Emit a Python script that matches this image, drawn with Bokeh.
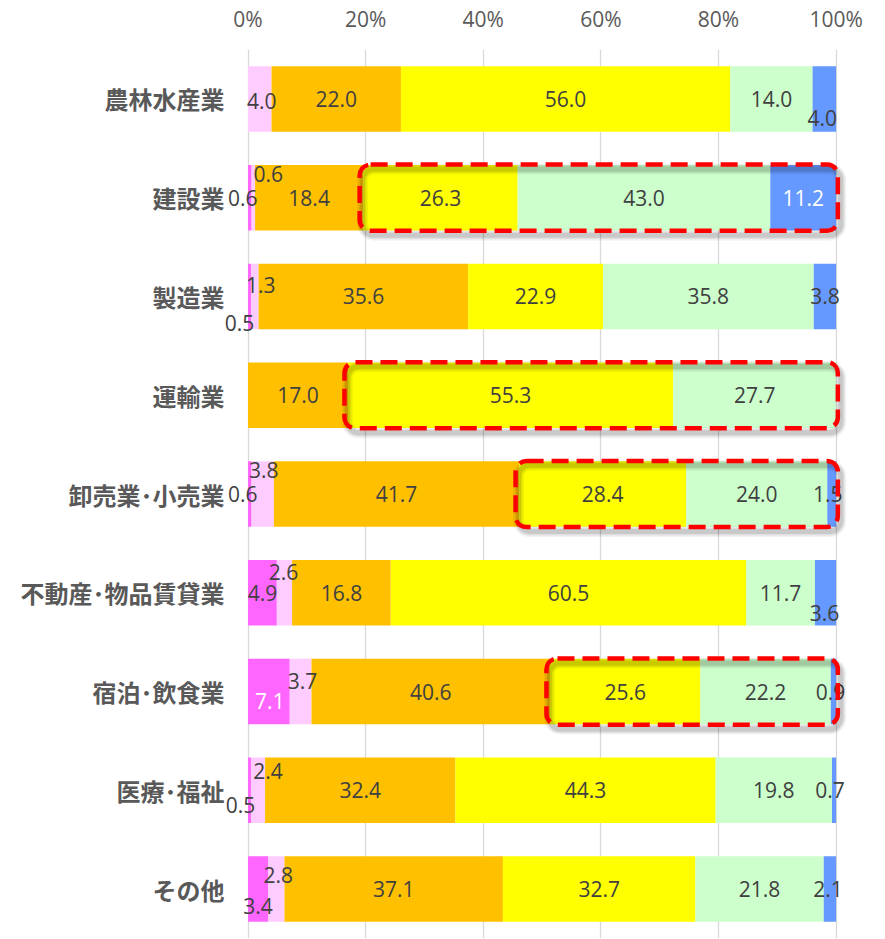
from bokeh.plotting import figure
from bokeh.models import Range1d, FixedTicker, BoxAnnotation, ColumnDataSource
from bokeh.core.properties import value
from bokeh.embed import file_html
from bokeh.resources import INLINE

# Industries, top to bottom
categories = ["農林水産業", "建設業", "製造業", "運輸業", "卸売業･小売業",
              "不動産･物品賃貸業", "宿泊･飲食業", "医療･福祉", "その他"]

# Share of responses per answer (percent), one list per stacked series
series_1 = [0.0, 0.6, 0.5, 0.0, 0.6, 4.9, 7.1, 0.5, 3.4]
series_2 = [4.0, 0.6, 1.3, 0.0, 3.8, 2.6, 3.7, 2.4, 2.8]
series_3 = [22.0, 18.4, 35.6, 17.0, 41.7, 16.8, 40.6, 32.4, 37.1]
series_4 = [56.0, 26.3, 22.9, 55.3, 28.4, 60.5, 25.6, 44.3, 32.7]
series_5 = [14.0, 43.0, 35.8, 27.7, 24.0, 11.7, 22.2, 19.8, 21.8]
series_6 = [4.0, 11.2, 3.8, 0.0, 1.5, 3.6, 0.9, 0.7, 2.1]

tick_values = [0, 20, 40, 60, 80, 100]
tick_labels = ["0%", "20%", "40%", "60%", "80%", "100%"]

# Rows framed with a dashed outline (from the 4th series to the end)
highlighted = ["建設業", "運輸業", "卸売業･小売業", "宿泊･飲食業"]

# ---- styling -------------------------------------------------------------
series = [series_1, series_2, series_3, series_4, series_5, series_6]
colors = ["#FF66FF", "#FFCCFF", "#FFC000", "#FFFF00", "#CCFFCC", "#6699FF"]
label_colors = ["#404040"] * 6
white_labels = {(1, 5), (6, 0)}          # (row, series) drawn in white
# pixel nudges for small segment labels: (row, series) -> (dx, dy)
nudges = {
    (0, 1): (2, 2), (0, 5): (-2, 19),
    (1, 0): (-7, 0), (1, 1): (15, -24),
    (2, 0): (-10, 27), (2, 1): (6, -11),
    (4, 0): (-7, 0), (4, 1): (1, -24), (4, 5): (-4, 0),
    (5, 1): (-1, -21), (5, 5): (-1, 20),
    (6, 0): (1, 9), (6, 1): (2, -11), (6, 5): (-3, 0),
    (7, 0): (-9, 15), (7, 1): (10, -19), (7, 5): (-4, 0),
    (8, 0): (0, 17), (8, 1): (2, -14), (8, 5): (-2, 0),
}
BAR_H = 0.663
n = len(categories)
rows = list(range(n))

# the x range runs a little past 0..100 so that labels beside the bars
# are not cut off at the plot edges
p = figure(width=885, height=939,
           x_range=Range1d(-4, 105), y_range=Range1d(n - 0.5, -0.5),
           x_axis_location="above",
           output_backend="svg", toolbar_location=None,
           min_border_left=224, min_border_right=20,
           min_border_top=49, min_border_bottom=1)

# 100% stacked bars: each row normalised to its own total
totals = [sum(s[i] for s in series) for i in rows]
cum = [0.0] * n
starts = []
lab_x, lab_y, lab_t, lab_dx, lab_dy, lab_c = [], [], [], [], [], []
for k, s in enumerate(series):
    left = cum[:]
    right = [cum[i] + s[i] / totals[i] * 100 for i in rows]
    starts.append(left)
    src = ColumnDataSource(dict(y=rows, left=left, right=right))
    p.hbar(y="y", left="left", right="right", height=BAR_H, source=src,
           fill_color=colors[k], line_color=None)
    for i in rows:
        if s[i] > 0:
            dx, dy = nudges.get((i, k), (0, 0))
            lab_x.append((left[i] + right[i]) / 2)
            lab_y.append(i)
            lab_t.append(f"{s[i]:.1f}")
            lab_dx.append(dx)
            lab_dy.append(dy)
            lab_c.append("#FFFFFF" if (i, k) in white_labels else label_colors[k])
    cum = right

labels = ColumnDataSource(dict(x=lab_x, y=lab_y, text=lab_t, dx=lab_dx,
                               dy=lab_dy, color=lab_c))
p.text(x="x", y="y", text="text", x_offset="dx", y_offset="dy",
       text_color="color", text_align="center", text_baseline="middle",
       text_font=value("Open Sans"), text_font_size="21px", source=labels)

# dashed rounded frames with a soft shadow
half = 0.335
for name in highlighted:
    i = categories.index(name)
    left = starts[3][i] - 0.6
    right = 100.3
    for w, a in [(11, 0.05), (8, 0.07), (5, 0.10)]:
        p.add_layout(BoxAnnotation(left=left + 0.5, right=right + 0.5,
                                   top=i - half + 0.045, bottom=i + half + 0.045,
                                   fill_alpha=0, fill_color=None,
                                   line_color="#000000", line_alpha=a,
                                   line_width=w, border_radius=11))
    p.add_layout(BoxAnnotation(left=left, right=right,
                               top=i - half, bottom=i + half,
                               fill_alpha=0, fill_color=None,
                               line_color="#FF0000", line_alpha=1.0,
                               line_width=4.5, line_dash="17 8",
                               border_radius=11))

# axes and grid
p.xaxis.ticker = FixedTicker(ticks=tick_values)
p.xaxis.major_label_overrides = dict(zip(tick_values, tick_labels))
p.xaxis.axis_line_color = None
p.xaxis.major_tick_line_color = None
p.xaxis.minor_tick_line_color = None
p.xaxis.major_label_text_font = "Open Sans"
p.xaxis.major_label_text_font_size = "21px"
p.xaxis.major_label_text_color = "#595959"
p.xaxis.major_label_standoff = 11

p.yaxis.ticker = FixedTicker(ticks=rows)
p.yaxis.major_label_overrides = {i: c for i, c in enumerate(categories)}
p.yaxis.axis_line_color = None
p.yaxis.major_tick_line_color = None
p.yaxis.minor_tick_line_color = None
p.yaxis.major_label_text_font = "Noto Sans CJK JP"
p.yaxis.major_label_text_font_style = "bold"
p.yaxis.major_label_text_font_size = "24px"
p.yaxis.major_label_text_color = "#595959"
p.yaxis.major_label_standoff = -6

p.xgrid.ticker = FixedTicker(ticks=tick_values)
p.xgrid.grid_line_color = "#D9D9D9"
p.xgrid.grid_line_width = 1.3
p.ygrid.grid_line_color = None
p.outline_line_color = None
p.background_fill_color = "#FFFFFF"
p.border_fill_color = "#FFFFFF"

open("out.html", "w").write(file_html(p, INLINE))
